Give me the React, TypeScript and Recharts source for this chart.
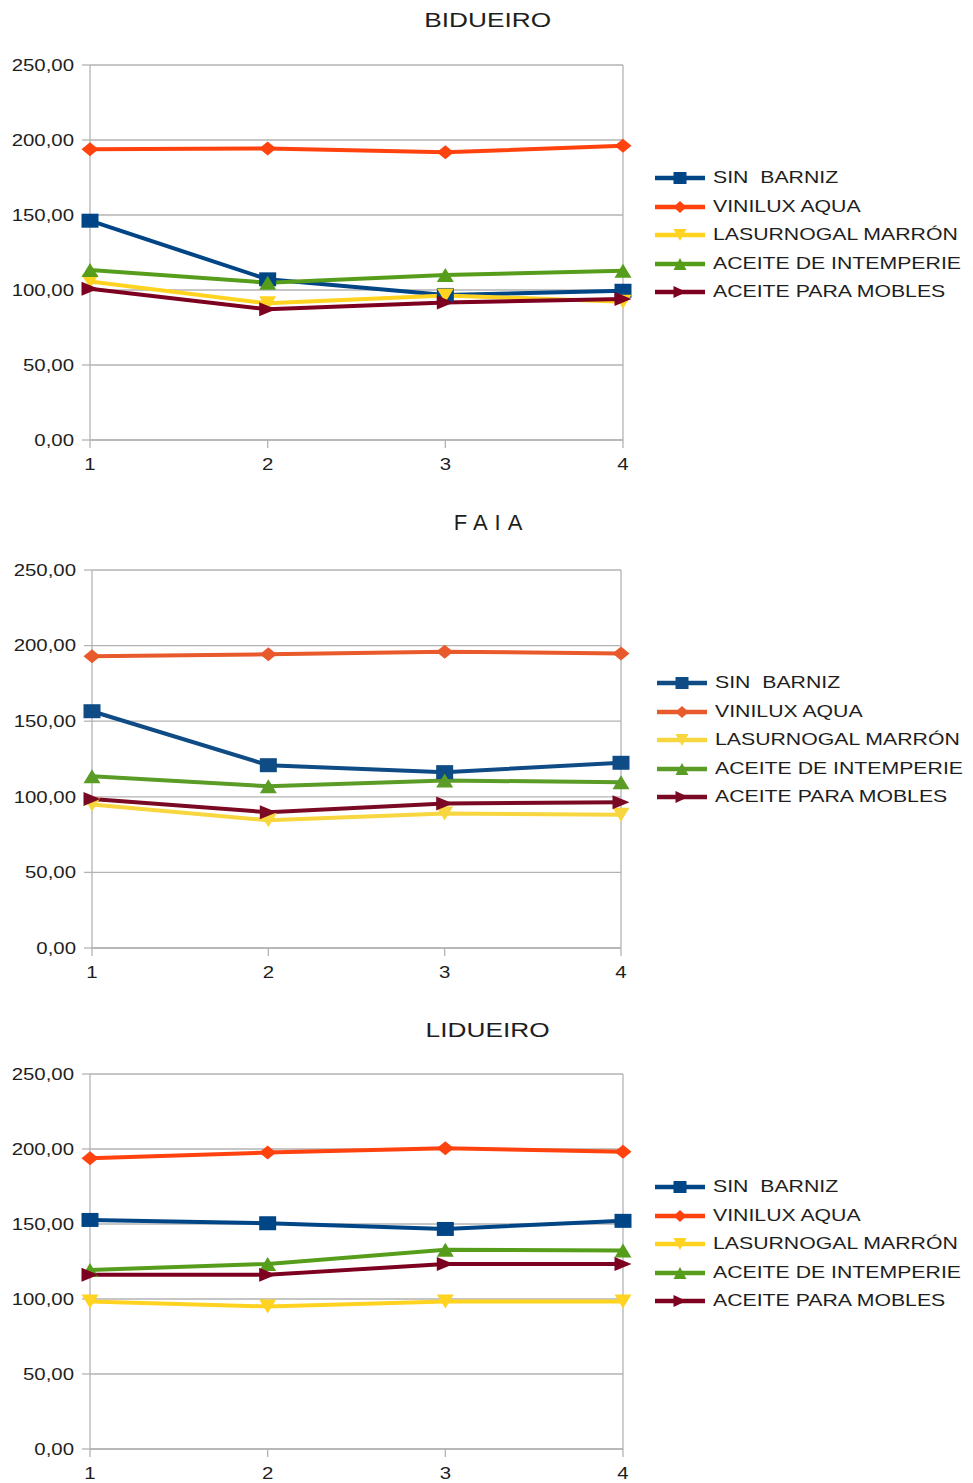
import React from 'react';
import {
  LineChart,
  Line,
  XAxis,
  YAxis,
  CartesianGrid,
  ReferenceLine,
  Legend,
} from 'recharts';

// sample number on the x axis
const X_VALUES = [1, 2, 3, 4];
const Y_TICKS = [0, 50, 100, 150, 200, 250];

const SERIES_NAMES = [
  'SIN  BARNIZ',
  'VINILUX AQUA',
  'LASURNOGAL MARRÓN',
  'ACEITE DE INTEMPERIE',
  'ACEITE PARA MOBLES',
];

// BIDUEIRO
const bidueiroSinBarniz = [146.2, 107.1, 96.7, 99.5];
const bidueiroVinilux = [193.8, 194.4, 191.8, 196.2];
const bidueiroLasurnogal = [105.6, 91.1, 96.4, 92.2];
const bidueiroIntemperie = [113.3, 104.9, 110.0, 112.9];
const bidueiroMobles = [100.9, 87.1, 91.6, 94.0];

// FAIA
const faiaSinBarniz = [156.6, 120.9, 116.3, 122.5];
const faiaVinilux = [193.0, 194.2, 196.0, 194.8];
const faiaLasurnogal = [94.9, 84.5, 88.9, 88.2];
const faiaIntemperie = [113.6, 107.0, 110.8, 109.6];
const faiaMobles = [98.6, 89.8, 95.5, 96.4];

// LIDUEIRO
const lidueiroSinBarniz = [152.7, 150.5, 146.7, 152.1];
const lidueiroVinilux = [193.8, 197.6, 200.5, 198.2];
const lidueiroLasurnogal = [98.3, 95.0, 98.3, 98.3];
const lidueiroIntemperie = [119.4, 123.4, 132.8, 132.3];
const lidueiroMobles = [116.1, 116.1, 123.4, 123.4];

const PALETTE = ['#004586', '#ff420e', '#ffd320', '#579d1c', '#7e0021'];
const PALETTE_SOFT = ['#0f4b85', '#e8592b', '#f7d640', '#5b9c26', '#7a0a24'];
const SHAPES = ['square', 'diamond', 'down', 'up', 'right'];

const GRID = '#b3b3b3';
const TEXT = '#1e1e1e';
const FONT = '"Liberation Sans", Arial, sans-serif';

const buildRows = (series: number[][]) =>
  X_VALUES.map((x, i) => {
    const row: Record<string, number> = { x };
    series.forEach((s, k) => {
      row[`s${k}`] = s[i];
    });
    return row;
  });

const markerPath = (shape: string, cx: number, cy: number, w: number, h: number) => {
  const hw = w / 2;
  const hh = h / 2;
  switch (shape) {
    case 'square':
      return `M${cx - hw},${cy - hh}H${cx + hw}V${cy + hh}H${cx - hw}Z`;
    case 'diamond':
      return `M${cx},${cy - hh}L${cx + hw},${cy}L${cx},${cy + hh}L${cx - hw},${cy}Z`;
    case 'up':
      return `M${cx},${cy - hh}L${cx + hw},${cy + hh}L${cx - hw},${cy + hh}Z`;
    case 'down':
      return `M${cx - hw},${cy - hh}L${cx + hw},${cy - hh}L${cx},${cy + hh}Z`;
    default:
      return `M${cx - hw},${cy - hh}L${cx + hw},${cy}L${cx - hw},${cy + hh}Z`;
  }
};

const makeDot = (shape: string, color: string) => (props: any) => {
  const { cx, cy, index } = props;
  if (cx == null || cy == null) return <g key={index} />;
  return <path key={index} d={markerPath(shape, cx, cy, 17, 14)} fill={color} />;
};

const fmt = (v: number) => v.toFixed(2).replace('.', ',');

const YTick = (props: any) => {
  const { x, y, payload } = props;
  return (
    <text
      transform={`translate(${x},${y}) scale(1.2,1)`}
      textAnchor="end"
      dominantBaseline="central"
      fontSize={17}
      fontFamily={FONT}
      fill={TEXT}
    >
      {fmt(payload.value)}
    </text>
  );
};

const XTick = (props: any) => {
  const { x, y, payload } = props;
  return (
    <text
      transform={`translate(${x},${y + 14}) scale(1.2,1)`}
      textAnchor="middle"
      dominantBaseline="central"
      fontSize={17}
      fontFamily={FONT}
      fill={TEXT}
    >
      {payload.value}
    </text>
  );
};

const LegendList = ({ palette }: { palette: string[] }) => (
  <div style={{ fontFamily: FONT }}>
    {SERIES_NAMES.map((name, k) => (
      <div key={name} style={{ display: 'flex', alignItems: 'center', height: 28.5 }}>
        <svg width={52} height={16} style={{ flex: 'none' }}>
          <line x1={0} x2={50} y1={8} y2={8} stroke={palette[k]} strokeWidth={4.5} />
          <path d={markerPath(SHAPES[k], 25, 8, 13, 12)} fill={palette[k]} />
        </svg>
        <span
          style={{
            marginLeft: 6,
            fontSize: 17,
            color: TEXT,
            whiteSpace: 'pre',
            display: 'inline-block',
            transform: 'scaleX(1.25)',
            transformOrigin: 'left center',
          }}
        >
          {name}
        </span>
      </div>
    ))}
  </div>
);

interface PanelProps {
  top: number;
  height: number;
  bottom: number;
  title: string;
  titleTop: number;
  titleStyle?: React.CSSProperties;
  series: number[][];
  palette: string[];
  plotLeft: number;
  plotRight: number;
  legendLeft: number;
}

const Panel = ({
  top,
  height,
  bottom,
  title,
  titleTop,
  titleStyle,
  series,
  palette,
  plotLeft,
  plotRight,
  legendLeft,
}: PanelProps) => {
  const rows = buildRows(series);
  return (
    <div style={{ position: 'absolute', left: 0, top, width: 973, height }}>
      <div
        style={{
          position: 'absolute',
          left: 0,
          width: 976,
          top: titleTop,
          textAlign: 'center',
          fontFamily: FONT,
          fontSize: 21,
          color: TEXT,
          lineHeight: '24px',
        }}
      >
        <span style={{ display: 'inline-block', transform: 'scaleX(1.25)', ...titleStyle }}>{title}</span>
      </div>
      <LineChart
        width={973}
        height={height}
        data={rows}
        margin={{ top: 65, right: 973 - plotRight, left: 0, bottom }}
      >
        <CartesianGrid vertical={false} stroke={GRID} strokeWidth={1.3} />
        <XAxis
          dataKey="x"
          type="number"
          domain={[1, 4]}
          ticks={X_VALUES}
          interval={0}
          height={30}
          tickSize={8}
          axisLine={{ stroke: GRID, strokeWidth: 1.3 }}
          tickLine={{ stroke: GRID, strokeWidth: 1.3 }}
          tick={<XTick />}
        />
        <YAxis
          type="number"
          domain={[0, 250]}
          ticks={Y_TICKS}
          interval={0}
          width={plotLeft}
          tickSize={8}
          tickMargin={8}
          axisLine={{ stroke: GRID, strokeWidth: 1.3 }}
          tickLine={{ stroke: GRID, strokeWidth: 1.3 }}
          tick={<YTick />}
        />
        <ReferenceLine x={4} stroke={GRID} strokeWidth={1.3} />
        {series.map((_, k) => (
          <Line
            key={SERIES_NAMES[k]}
            type="linear"
            dataKey={`s${k}`}
            name={SERIES_NAMES[k]}
            stroke={palette[k]}
            strokeWidth={4}
            dot={makeDot(SHAPES[k], palette[k])}
            activeDot={false}
            isAnimationActive={false}
          />
        ))}
        <Legend
          layout="horizontal"
          verticalAlign="middle"
          align="center"
          wrapperStyle={{ left: legendLeft, top: 164, width: 320 }}
          content={() => <LegendList palette={palette} />}
        />
      </LineChart>
    </div>
  );
};

const App = () => (
  <div
    style={{
      position: 'absolute',
      left: 0,
      top: 0,
      width: 973,
      height: 1483,
      background: '#fff',
      overflow: 'hidden',
    }}
  >
    <Panel
      top={0}
      height={500}
      bottom={30}
      title="BIDUEIRO"
      titleTop={8}
      series={[bidueiroSinBarniz, bidueiroVinilux, bidueiroLasurnogal, bidueiroIntemperie, bidueiroMobles]}
      palette={PALETTE}
      plotLeft={90}
      plotRight={623}
      legendLeft={655}
    />
    <Panel
      top={505}
      height={500}
      bottom={27}
      title="FAIA"
      titleTop={6}
      titleStyle={{ transform: 'none', letterSpacing: 7, paddingLeft: 7, fontSize: 22 }}
      series={[faiaSinBarniz, faiaVinilux, faiaLasurnogal, faiaIntemperie, faiaMobles]}
      palette={PALETTE_SOFT}
      plotLeft={92}
      plotRight={621}
      legendLeft={657}
    />
    <Panel
      top={1009}
      height={474}
      bottom={4}
      title="LIDUEIRO"
      titleTop={9}
      series={[lidueiroSinBarniz, lidueiroVinilux, lidueiroLasurnogal, lidueiroIntemperie, lidueiroMobles]}
      palette={PALETTE}
      plotLeft={90}
      plotRight={623}
      legendLeft={655}
    />
  </div>
);

export default App;
